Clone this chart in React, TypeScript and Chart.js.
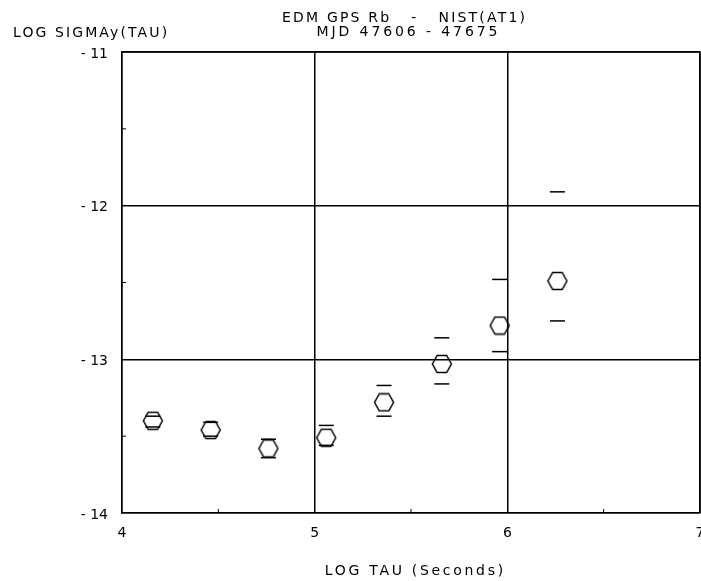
import React, { useEffect, useRef } from "react";
import { Chart, registerables } from "chart.js";

Chart.register(...registerables);

const logTau = [4.16, 4.46, 4.76, 5.06, 5.36, 5.66, 5.96, 6.26];
const logSigma = [-13.40, -13.46, -13.58, -13.51, -13.28, -13.03, -12.78, -12.49];
const upperBar = [-13.37, -13.41, -13.52, -13.43, -13.17, -12.86, -12.48, -11.91];
const lowerBar = [-13.44, -13.50, -13.64, -13.56, -13.37, -13.16, -12.95, -12.75];

const titleLines = ["EDM GPS Rb   -   NIST(AT1)", "MJD 47606 - 47675"];
const yTitle = "LOG SIGMAy(TAU)";
const xTitle = "LOG TAU (Seconds)";

function makeHexagon(): HTMLCanvasElement {
  const c = document.createElement("canvas");
  c.width = 22;
  c.height = 20;
  const ctx = c.getContext("2d")!;
  ctx.strokeStyle = "#000";
  ctx.lineWidth = 1.5;
  const cx = 11, cy = 10, rx = 9.5, ry = 8.5;
  ctx.beginPath();
  ctx.moveTo(cx - rx, cy);
  ctx.lineTo(cx - rx / 2, cy - ry);
  ctx.lineTo(cx + rx / 2, cy - ry);
  ctx.lineTo(cx + rx, cy);
  ctx.lineTo(cx + rx / 2, cy + ry);
  ctx.lineTo(cx - rx / 2, cy + ry);
  ctx.closePath();
  ctx.stroke();
  return c;
}

function spacedText(ctx: any, text: string, x: number, y: number, spacing: number, align: "left" | "center") {
  ctx.letterSpacing = spacing + "px";
  ctx.textAlign = "left";
  const w = ctx.measureText(text).width - spacing;
  const x0 = align === "center" ? x - w / 2 : x;
  ctx.fillText(text, x0, y);
}

const decorPlugin = {
  id: "decor",
  afterDraw(chart: any) {
    const { ctx, chartArea } = chart;
    const { left, right, top, bottom } = chartArea;
    const xs = chart.scales.x;
    const ys = chart.scales.y;
    ctx.save();
    ctx.strokeStyle = "#000";
    ctx.lineWidth = 1.5;
    ctx.beginPath();
    ctx.moveTo(left, top);
    ctx.lineTo(right, top);
    ctx.lineTo(right, bottom);
    ctx.stroke();
    // minor ticks
    ctx.lineWidth = 1;
    [4.5, 5.5, 6.5].forEach((v) => {
      const px = xs.getPixelForValue(v);
      ctx.beginPath();
      ctx.moveTo(px, bottom);
      ctx.lineTo(px, bottom - 4);
      ctx.stroke();
    });
    [-11.5, -12.5, -13.5].forEach((v) => {
      const py = ys.getPixelForValue(v);
      ctx.beginPath();
      ctx.moveTo(left, py);
      ctx.lineTo(left + 4, py);
      ctx.stroke();
    });
    // texts
    ctx.fillStyle = "#000";
    ctx.font = "14px 'DejaVu Sans'";
    ctx.textBaseline = "middle";
    const cx = (left + right) / 2;
    spacedText(ctx, titleLines[0], cx - 7.5, 18, 2.2, "center");
    spacedText(ctx, titleLines[1], cx - 4, 32, 2.9, "center");
    spacedText(ctx, xTitle, cx + 3, 571, 2.7, "center");
    spacedText(ctx, yTitle, 13, 33, 2.1, "left");
    ctx.restore();
  },
};

export default function App() {
  const ref = useRef<HTMLCanvasElement | null>(null);
  useEffect(() => {
    if (!ref.current) return;
    const hex = makeHexagon();
    const pts = logTau.map((x, i) => ({ x, y: logSigma[i] }));
    const up = logTau.map((x, i) => ({ x, y: upperBar[i] }));
    const lo = logTau.map((x, i) => ({ x, y: lowerBar[i] }));
    const chart = new Chart(ref.current, {
      type: "scatter",
      data: {
        datasets: [
          {
            label: "upper",
            data: up,
            pointStyle: "line",
            pointRadius: 7.5,
            borderColor: "#000",
            backgroundColor: "#000",
            pointBorderWidth: 1.5,
          },
          {
            label: "lower",
            data: lo,
            pointStyle: "line",
            pointRadius: 7.5,
            borderColor: "#000",
            backgroundColor: "#000",
            pointBorderWidth: 1.5,
          },
          {
            label: "sigma",
            data: pts,
            pointStyle: hex as any,
            pointRadius: 10,
            borderColor: "#000",
          },
        ],
      },
      options: {
        responsive: false,
        animation: false,
        devicePixelRatio: 1,
        layout: { padding: { top: 52, left: 0, right: 20, bottom: 0 } },
        plugins: {
          legend: { display: false },
          tooltip: { enabled: false },
          title: { display: false },
        },
        scales: {
          x: {
            type: "linear",
            min: 4,
            max: 7,
            afterFit: (s: any) => {
              s.height = 68;
            },
            ticks: {
              stepSize: 1,
              color: "#000",
              padding: 12,
              font: { family: "'DejaVu Sans'", size: 14 },
              callback: (v: any) => String(v),
            },
            grid: { color: "#000", lineWidth: 1.5, drawTicks: false },
            border: { display: true, color: "#000", width: 1.5 },
          },
          y: {
            type: "linear",
            min: -14,
            max: -11,
            afterFit: (s: any) => {
              s.width = 122;
            },
            ticks: {
              stepSize: 1,
              color: "#000",
              padding: 14,
              labelOffset: 2,
              font: { family: "'DejaVu Sans'", size: 14 },
              callback: (v: any) => (v < 0 ? "- " + String(-v) : String(v)),
            },
            grid: { color: "#000", lineWidth: 1.5, drawTicks: false },
            border: { display: true, color: "#000", width: 1.5 },
          },
        },
      },
      plugins: [decorPlugin],
    });
    return () => chart.destroy();
  }, []);
  return (
    <div
      style={{
        position: "fixed",
        left: 0,
        top: 0,
        width: 701,
        height: 581,
        overflow: "hidden",
        background: "#fff",
      }}
    >
      <canvas ref={ref} width={720} height={581} style={{ width: 720, height: 581, display: "block" }} />
    </div>
  );
}
